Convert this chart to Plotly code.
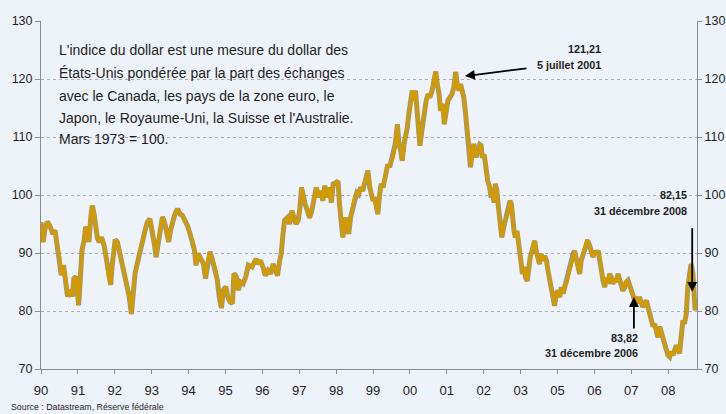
import plotly.graph_objects as go

# Position on the time axis, in tick-interval units (0 = tick "90")
t_axe = [
    0.00, 0.02, 0.06, 0.11, 0.17, 0.24, 0.32, 0.38, 0.44, 0.50, 0.55, 0.61, 0.67, 0.72, 0.79, 0.85, 0.89, 0.95, 0.99,
    1.02, 1.07, 1.11, 1.17, 1.21, 1.26, 1.30, 1.35, 1.39, 1.44, 1.49, 1.53, 1.58, 1.64, 1.71, 1.78, 1.83, 1.89, 1.93,
    2.01, 2.07, 2.12, 2.20, 2.25, 2.32, 2.39, 2.45, 2.49, 2.55, 2.61, 2.68, 2.76, 2.82, 2.88, 2.95,
    3.02, 3.07, 3.12, 3.17, 3.23, 3.29, 3.35, 3.41, 3.46, 3.51, 3.57, 3.63, 3.70, 3.77, 3.83, 3.90, 3.97,
    4.04, 4.10, 4.16, 4.20, 4.26, 4.33, 4.40, 4.46, 4.52, 4.58, 4.64, 4.72, 4.78, 4.83, 4.89, 4.94,
    5.01, 5.06, 5.12, 5.19, 5.23, 5.29, 5.35, 5.41, 5.48, 5.55, 5.62, 5.72, 5.83, 5.88, 5.95,
    6.02, 6.08, 6.15, 6.22, 6.29, 6.35, 6.41, 6.47, 6.51, 6.56, 6.60, 6.68, 6.74, 6.80, 6.86, 6.91, 6.97,
    7.02, 7.06, 7.11, 7.16, 7.22, 7.28, 7.34, 7.40, 7.46, 7.53, 7.58, 7.64, 7.69, 7.75, 7.81, 7.87, 7.92, 7.99,
    8.05, 8.09, 8.12, 8.18, 8.21, 8.26, 8.30, 8.34, 8.39, 8.45, 8.50, 8.56, 8.61, 8.66, 8.72, 8.77, 8.83,
    8.86, 8.91, 8.95, 9.00, 9.04, 9.09, 9.13, 9.18, 9.22, 9.27, 9.31, 9.36, 9.40, 9.45, 9.49, 9.54, 9.60, 9.66,
    9.70, 9.75, 9.79, 9.84, 9.88, 9.93, 9.97,
    10.02, 10.06, 10.11, 10.15, 10.20, 10.24, 10.27, 10.31, 10.35, 10.40, 10.44, 10.49, 10.54, 10.60, 10.64,
    10.70, 10.74, 10.79, 10.83, 10.89, 10.93, 10.98,
    11.03, 11.08, 11.14, 11.19, 11.24, 11.28, 11.33, 11.37, 11.42, 11.46, 11.50, 11.55, 11.59, 11.64, 11.68,
    11.73, 11.79, 11.84, 11.89, 11.93, 11.96,
    12.01, 12.04, 12.08, 12.11, 12.16, 12.20, 12.24, 12.28, 12.31, 12.35, 12.39, 12.42, 12.46, 12.49, 12.54,
    12.58, 12.63, 12.67, 12.71, 12.75, 12.78, 12.82, 12.86, 12.90, 12.95, 12.98,
    13.02, 13.05, 13.09, 13.13, 13.18, 13.22, 13.26, 13.31, 13.34, 13.38, 13.42, 13.47, 13.51, 13.56, 13.60,
    13.65, 13.70, 13.74, 13.79, 13.83, 13.88, 13.92, 13.97,
    14.01, 14.06, 14.10, 14.15, 14.19, 14.24, 14.28, 14.33, 14.37, 14.42, 14.46, 14.51, 14.55, 14.60, 14.64,
    14.69, 14.73, 14.79, 14.82, 14.87, 14.91, 14.96,
    15.01, 15.05, 15.10, 15.14, 15.19, 15.23, 15.28, 15.32, 15.37, 15.41, 15.46, 15.50, 15.55, 15.59, 15.64,
    15.68, 15.73, 15.77, 15.82, 15.86, 15.91, 15.95,
    16.00, 16.04, 16.09, 16.13, 16.18, 16.22, 16.27, 16.31, 16.36, 16.41, 16.45, 16.50, 16.54, 16.59, 16.63,
    16.68, 16.72, 16.77, 16.81, 16.86, 16.90, 16.95, 16.99,
    17.04, 17.08, 17.13, 17.17, 17.22, 17.26, 17.31, 17.35, 17.40, 17.44, 17.49, 17.53, 17.58, 17.62, 17.67,
    17.70, 17.73,
]

indice_dollar = [
    95.3, 93.0, 91.9, 94.2, 95.4, 94.7, 93.3, 93.9, 91.3, 89.3, 86.2, 87.9, 85.6, 82.5, 83.6, 82.5, 85.6, 85.9, 83.0,
    81.0, 85.9, 90.5, 92.2, 94.5, 93.9, 91.9, 96.2, 98.2, 96.7, 94.5, 92.5, 91.9, 92.7, 91.3, 88.7, 85.9, 84.5, 87.9,
    92.3, 91.9, 90.5, 88.7, 87.0, 84.7, 82.5, 79.5, 83.0, 86.5, 88.2, 90.5, 92.2, 93.9, 95.3, 95.9,
    93.9, 91.6, 89.3, 91.6, 94.2, 96.2, 95.3, 93.3, 91.9, 93.9, 95.6, 96.7, 97.6, 96.7, 96.5, 95.6, 94.7,
    93.3, 92.2, 90.5, 87.9, 89.9, 89.0, 88.2, 85.6, 88.7, 90.2, 89.0, 87.3, 85.3, 82.5, 80.5, 83.6,
    84.2, 82.5, 81.6, 81.3, 86.5, 85.9, 83.6, 85.0, 84.7, 85.9, 87.9, 87.6, 89.0, 88.1, 88.7,
    87.5, 86.1, 87.0, 86.4, 88.1, 87.0, 86.1, 88.7, 89.8, 93.3, 95.6, 96.1, 95.0, 97.3, 96.1, 95.0, 95.6,
    97.9, 101.3, 99.6, 98.4, 97.3, 96.1, 97.3, 99.0, 101.3, 99.6, 100.7, 99.0, 101.6, 99.6, 101.3, 98.7, 101.9, 102.1,
    102.4, 98.4, 96.1, 92.7, 93.8, 96.1, 95.0, 93.3, 96.1, 97.9, 99.6, 100.4, 100.1, 101.3, 100.7, 102.1, 103.0,
    104.2, 101.3, 100.2, 99.0, 99.6, 97.9, 96.7, 100.2, 101.9, 101.3, 102.5, 104.2, 105.3, 104.8, 105.9, 106.5, 108.8, 112.2,
    108.8, 107.6, 105.9, 108.8, 109.9, 111.7, 114.0,
    115.7, 118.0, 116.3, 118.0, 114.0, 111.7, 108.5, 110.5, 112.8, 114.5, 116.3, 117.4, 116.8, 118.0, 119.7,
    121.3, 119.1, 117.4, 114.5, 115.7, 112.2, 114.5,
    116.3, 116.8, 117.4, 118.6, 121.2, 119.1, 118.0, 119.1, 118.0, 116.8, 114.5, 111.7, 109.4, 104.8, 107.1,
    108.8, 106.5, 107.6, 108.7, 108.5, 106.4,
    107.0, 105.3, 104.2, 102.4, 101.3, 99.6, 100.1, 98.7, 101.9, 101.0, 98.4, 96.1, 93.8, 92.7, 94.4,
    95.6, 96.1, 97.3, 99.0, 98.4, 96.1, 93.8, 92.7, 93.8, 91.5, 89.3,
    88.1, 86.4, 87.6, 85.8, 85.2, 87.6, 89.3, 90.4, 91.5, 92.1, 90.4, 89.3, 88.1, 89.8, 88.7,
    89.5, 88.7, 87.0, 85.2, 83.5, 82.4, 80.9, 83.0,
    83.5, 82.4, 84.1, 83.0, 84.1, 84.7, 85.8, 87.0, 88.1, 89.8, 90.4, 88.7, 87.6, 86.4, 88.7,
    89.8, 90.4, 92.1, 92.1, 91.3, 90.1, 89.3,
    90.4, 89.8, 90.4, 89.3, 87.0, 85.3, 84.1, 85.8, 84.7, 86.4, 85.8, 84.7, 85.5, 85.0, 86.4,
    85.5, 84.7, 83.5, 84.1, 85.0, 85.3, 84.4,
    83.5, 82.7, 81.8, 82.4, 81.3, 82.4, 81.5, 80.7, 81.3, 81.8, 80.7, 79.5, 78.4, 77.3, 77.8,
    76.7, 75.5, 77.3, 76.1, 75.5, 74.4, 73.3, 72.4,
    72.1, 73.0, 72.4, 73.3, 74.1, 73.3, 72.7, 75.5, 78.4, 77.8, 79.5, 84.1, 87.0, 88.1, 86.4,
    82.4, 80.1,
]

tick_pos = list(range(18))
tick_labels = ["90", "91", "92", "93", "94", "95", "96", "97", "98", "99",
               "00", "01", "02", "03", "05", "06", "07", "08"]
y_ticks = [70, 80, 90, 100, 110, 120, 130]

texte = [
    "L'indice du dollar est une mesure du dollar des",
    "États-Unis pondérée par la part des échanges",
    "avec le Canada, les pays de la zone euro, le",
    "Japon, le Royaume-Uni, la Suisse et l'Australie.",
    "Mars 1973 = 100.",
]

BG = "rgb(238,243,250)"
GOLD = "rgb(208,154,0)"
AXIS = "rgb(140,140,140)"
TXT = "rgb(30,30,30)"
SANS = "Liberation Sans, Arial"

fig = go.Figure()
fig.add_trace(go.Scatter(x=t_axe, y=indice_dollar, mode="lines",
                         line=dict(color="rgba(110,110,110,0.7)", width=5),
                         hoverinfo="skip", showlegend=False))
fig.add_trace(go.Scatter(x=t_axe, y=indice_dollar, mode="lines",
                         line=dict(color=GOLD, width=3.6), showlegend=False))
fig.add_trace(go.Scatter(x=[t_axe[0]], y=[indice_dollar[0]], yaxis="y2", mode="lines",
                         line=dict(width=0), hoverinfo="skip", showlegend=False))

tickfont = dict(family=SANS, size=12.5, color=TXT)
fig.update_layout(
    width=726, height=414,
    margin=dict(l=41, r=29, t=21, b=45, autoexpand=False),
    paper_bgcolor=BG, plot_bgcolor=BG,
    xaxis=dict(range=[0, 17.78], tickvals=tick_pos, ticktext=tick_labels,
               ticks="outside", ticklen=4, tickcolor=AXIS, showline=True,
               linecolor=AXIS, linewidth=1, showgrid=False, zeroline=False,
               tickfont=dict(family=SANS, size=13, color=TXT), automargin=False,
               ticklabelstandoff=5),
    yaxis=dict(range=[70, 130], tickvals=y_ticks, ticks="outside", ticklen=5,
               tickcolor=AXIS, showline=True, linecolor=AXIS, linewidth=1,
               showgrid=True, gridcolor="rgb(175,175,175)", griddash="dot",
               gridwidth=1, zeroline=False, tickfont=tickfont, automargin=False),
    yaxis2=dict(range=[70, 130], tickvals=y_ticks, overlaying="y", side="right",
                ticks="outside", ticklen=4, tickcolor=AXIS, showline=True,
                linecolor=AXIS, linewidth=1, showgrid=False, zeroline=False,
                tickfont=tickfont, automargin=False),
)

def py(pix):
    return 1 - (pix - 21) / 348

line_y = [50, 73, 96, 118, 139]
for s, yy in zip(texte, line_y):
    fig.add_annotation(text=s, xref="paper", yref="paper", x=(57 - 41) / 656, y=py(yy),
                       xanchor="left", yanchor="middle", showarrow=False,
                       font=dict(family=SANS, size=14, color=TXT))

bold = dict(family=SANS, size=10.8, color=TXT)
labels = [("<b>121,21</b>", 603, 49), ("<b>5 juillet 2001</b>", 603, 65),
          ("<b>82,15</b>", 689, 195), ("<b>31 décembre 2008</b>", 689, 211),
          ("<b>83,82</b>", 640, 338), ("<b>31 décembre 2006</b>", 640, 353)]
for s, xx, yy in labels:
    fig.add_annotation(text=s, xref="paper", yref="paper", x=(xx - 41) / 656, y=py(yy),
                       xanchor="right", yanchor="middle", showarrow=False, font=bold)

arrows = [(11.49, 120.5, 63, -8), (16.07, 82.4, 0, 33), (17.65, 83.3, 0, -65)]
for xx, yy, ax, ay in arrows:
    fig.add_annotation(x=xx, y=yy, xref="x", yref="y", text="", showarrow=True,
                       ax=ax, ay=ay, arrowhead=2, arrowsize=1.1, arrowwidth=1.8,
                       arrowcolor="black", standoff=0)

fig.add_annotation(text="Source : Datastream, Réserve fédérale", xref="paper", yref="paper",
                   x=(9 - 41) / 656, y=py(407), xanchor="left", yanchor="middle",
                   showarrow=False, font=dict(family=SANS, size=8.8, color=TXT))

fig.write_html(
    "out.html",
    config={"displayModeBar": False},
    post_script="document.body.style.margin='0';document.body.style.background='" + BG + "';",
)
